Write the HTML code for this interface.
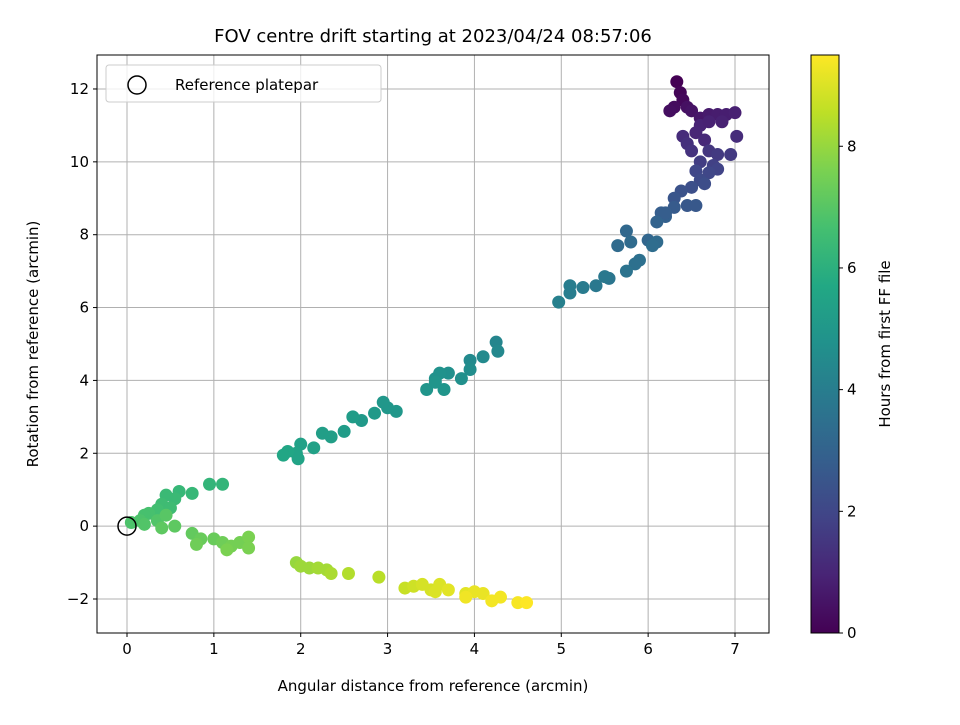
<!DOCTYPE html>
<html><head><meta charset="utf-8"><style>
body{margin:0;background:#fff;font-family:"Liberation Sans","DejaVu Sans",sans-serif}
svg text{font-family:"DejaVu Sans","Liberation Sans",sans-serif;fill:#000}
</style></head><body>
<svg id="c" width="960" height="720" viewBox="0 0 960 720">
<defs><linearGradient id="vg" x1="0" y1="1" x2="0" y2="0">
<stop offset="0" stop-color="#440154"/><stop offset="0.1" stop-color="#482475"/><stop offset="0.2" stop-color="#414487"/><stop offset="0.3" stop-color="#355f8d"/><stop offset="0.4" stop-color="#2a788e"/><stop offset="0.5" stop-color="#21918c"/><stop offset="0.6" stop-color="#22a884"/><stop offset="0.7" stop-color="#44bf70"/><stop offset="0.8" stop-color="#7ad151"/><stop offset="0.9" stop-color="#bddf26"/><stop offset="1" stop-color="#fde725"/></linearGradient></defs>
<g id="grid"></g><g id="pts"></g><g id="axes"></g>
</svg>
<script>
const xs=[6.33,6.37,6.4,6.3,6.25,6.45,6.5,6.6,6.7,6.8,6.9,7.0,6.85,6.6,6.55,6.65,6.7,7.02,6.4,6.45,6.5,6.7,6.95,6.8,6.6,6.75,6.8,6.7,6.55,6.6,6.65,6.5,6.38,6.3,6.45,6.55,6.3,6.15,6.2,6.1,6.2,6.0,5.75,5.8,5.65,6.1,6.05,5.9,5.85,5.75,5.55,5.4,5.5,5.25,5.1,5.1,4.97,
4.25,4.27,4.1,3.95,3.95,3.85,3.7,3.6,3.55,3.65,3.45,3.55,3.1,3.0,2.95,2.85,2.7,2.6,2.5,2.35,2.25,2.15,2.0,1.95,1.97,1.85,1.8,
1.1,0.95,0.75,0.6,0.55,0.45,0.4,0.5,0.35,0.25,0.2,0.15,0.05,0.2,0.35,0.45,0.55,0.4,0.75,0.85,1.0,0.8,1.1,1.2,1.3,1.4,1.4,1.15,
1.95,2.0,2.1,2.2,2.3,2.35,2.55,2.9,3.2,3.3,3.4,3.5,3.6,3.7,3.9,4.0,4.1,3.9,4.2,4.3,4.5,4.6,3.55];
const ys=[12.2,11.9,11.7,11.5,11.4,11.5,11.4,11.2,11.3,11.3,11.3,11.35,11.1,11.0,10.8,10.6,11.1,10.7,10.7,10.5,10.3,10.3,10.2,10.2,10.0,9.9,9.8,9.7,9.75,9.5,9.4,9.3,9.2,9.0,8.8,8.8,8.75,8.6,8.5,8.35,8.6,7.85,8.1,7.8,7.7,7.8,7.7,7.3,7.2,7.0,6.8,6.6,6.85,6.55,6.6,6.4,6.15,
5.05,4.8,4.65,4.55,4.3,4.05,4.2,4.2,4.05,3.75,3.75,3.95,3.15,3.25,3.4,3.1,2.9,3.0,2.6,2.45,2.55,2.15,2.25,2.0,1.85,2.05,1.95,
1.15,1.15,0.9,0.95,0.75,0.85,0.6,0.5,0.45,0.35,0.3,0.15,0.1,0.05,0.15,0.3,0.0,-0.05,-0.2,-0.35,-0.35,-0.5,-0.45,-0.55,-0.45,-0.3,-0.6,-0.65,
-1.0,-1.1,-1.15,-1.15,-1.2,-1.3,-1.3,-1.4,-1.7,-1.65,-1.6,-1.75,-1.6,-1.75,-1.85,-1.8,-1.85,-1.95,-2.05,-1.95,-2.1,-2.1,-1.8];
const hours=[0,0.1,0.2,0.3,0.35,0.4,0.5,0.6,0.7,0.75,0.8,0.85,0.9,0.95,1.0,1.1,0.9,1.2,1.2,1.3,1.4,1.5,1.6,1.6,1.7,1.8,1.9,2.0,2.0,2.1,2.2,2.3,2.4,2.5,2.6,2.6,2.7,2.8,2.9,3.0,2.8,3.1,3.2,3.3,3.3,3.3,3.4,3.5,3.5,3.6,3.7,3.8,3.8,3.9,4.0,4.0,4.1,
4.3,4.4,4.5,4.5,4.6,4.7,4.7,4.8,4.8,4.9,4.9,4.9,5.0,5.0,5.0,5.1,5.1,5.2,5.2,5.3,5.3,5.4,5.4,5.5,5.5,5.6,5.6,
6.2,6.2,6.3,6.3,6.4,6.4,6.5,6.5,6.6,6.7,6.7,6.8,6.8,6.9,6.9,7.0,7.1,7.1,7.2,7.3,7.3,7.4,7.4,7.5,7.5,7.6,7.6,7.6,
8.0,8.1,8.1,8.2,8.2,8.3,8.4,8.5,8.7,8.8,8.9,8.9,9.0,9.1,9.1,9.2,9.2,9.3,9.35,9.35,9.4,9.5,9.0];
const xTicks=[0,1,2,3,4,5,6,7];
const yTicks=[-2,0,2,4,6,8,10,12];
const cTicks=[0,2,4,6,8];
const HMAX=9.5;
const L=97,R=769,T=55,B=633;
const X=v=>127+v*86.857;
const Y=v=>599-(v+2)*36.43;
const CY=v=>633-v/HMAX*578;
const vir=[[68,1,84],[72,36,117],[65,68,135],[53,95,141],[42,120,142],[33,145,140],[34,168,132],[68,191,112],[122,209,81],[189,223,38],[253,231,37]];
function cmap(t){t=Math.max(0,Math.min(1,t))*10;const i=Math.min(9,Math.floor(t)),f=t-i;const a=vir[i],b=vir[i+1];return `rgb(${a.map((c,k)=>Math.round(c+(b[k]-c)*f)).join(',')})`;}
const NS='http://www.w3.org/2000/svg';
function mk(p,tag,at,txt){const e=document.createElementNS(NS,tag);for(const k in at)e.setAttribute(k,at[k]);if(txt!==undefined)e.textContent=txt;p.appendChild(e);return e;}
const grid=document.getElementById('grid'),pts=document.getElementById('pts'),ax=document.getElementById('axes');
xTicks.forEach(v=>{const x=X(v);
const g=mk(grid,'line',{x1:x,x2:x,y1:T,y2:B,stroke:'#b0b0b0','stroke-width':1});


const tk=mk(ax,'line',{x1:x,x2:x,y1:B,y2:B+4,stroke:'#000'});


const t=mk(ax,'text',{x:x,y:B+21,'text-anchor':'middle','font-size':15},v);

});
yTicks.forEach(v=>{const y=Y(v);
const g=mk(grid,'line',{x1:L,x2:R,y1:y,y2:y,stroke:'#b0b0b0','stroke-width':1});


const tk=mk(ax,'line',{x1:L-4,x2:L,y1:y,y2:y,stroke:'#000'});


const t=mk(ax,'text',{x:L-8,y:y+5,'text-anchor':'end','font-size':15},v<0?'\u2212'+(-v):v);

});
xs.forEach((v,i)=>{const c=mk(pts,'circle',{cx:X(v),cy:Y(ys[i]),r:6.5,fill:cmap(hours[i]/HMAX)});

});
const ref=mk(pts,'circle',{cx:X(0),cy:Y(0),r:9,fill:'none',stroke:'#000','stroke-width':1.5});


const fr=mk(ax,'rect',{x:L,y:T,width:R-L,height:B-T,fill:'none',stroke:'#000','stroke-width':1});


const ti=mk(ax,'text',{x:433,y:42,'text-anchor':'middle','font-size':18},'FOV centre drift starting at 2023/04/24 08:57:06');


const xl=mk(ax,'text',{x:433,y:691,'text-anchor':'middle','font-size':15},'Angular distance from reference (arcmin)');


const yl=mk(ax,'text',{x:38,y:344,'text-anchor':'middle','font-size':15,transform:'rotate(-90 38 344)'},'Rotation from reference (arcmin)');


const lg=mk(ax,'g',{});


mk(lg,'rect',{x:106,y:65,width:275,height:37,rx:3,fill:'#fff','fill-opacity':0.8,stroke:'#ccc'});
mk(lg,'circle',{cx:137,cy:85,r:9,fill:'none',stroke:'#000','stroke-width':1.5});
const lt=mk(lg,'text',{x:175,y:90,'font-size':15},'Reference platepar');


const cb=mk(ax,'rect',{x:811,y:T,width:28,height:B-T,fill:'url(#vg)',stroke:'#000','stroke-width':1});


cTicks.forEach(v=>{const y=CY(v);
mk(ax,'line',{x1:839,x2:843,y1:y,y2:y,stroke:'#000'});
const t=mk(ax,'text',{x:847,y:y+5,'font-size':15},v);

});
const cl=mk(ax,'text',{x:890,y:344,'text-anchor':'middle','font-size':15,transform:'rotate(-90 890 344)'},'Hours from first FF file');


</script>
</body></html>
